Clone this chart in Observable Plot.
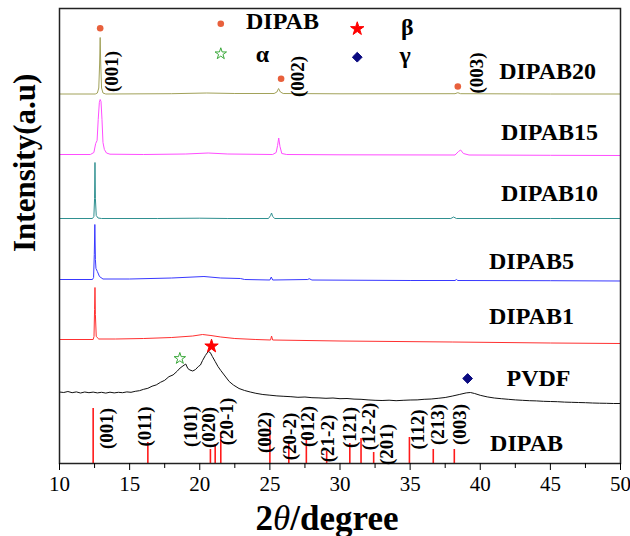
<!DOCTYPE html>
<html><head><meta charset="utf-8">
<script src="https://cdn.jsdelivr.net/npm/d3@7"></script>
<script src="https://cdn.jsdelivr.net/npm/@observablehq/plot@0.6"></script>
<style>html,body{margin:0;padding:0;background:#fff;}</style>
</head><body><div id="chart"></div>
<script>
// ---- Data (2θ in degrees, intensity in arbitrary units) ----
const sampleNames = ["DIPAB20", "DIPAB15", "DIPAB10", "DIPAB5", "DIPAB1", "PVDF"];
const sampleOffsets = [369.5, 309, 245, 184, 124, 0];

const dipab20 = [[10,0],[12.55,0],[12.7,1],[12.8,6],[12.86,30],[12.9,56.5],[12.94,30],[13.0,6],[13.1,1],[13.3,0],[18,0.3],[20.5,1],[22.5,0.5],[25.3,0.5],[25.5,2],[25.62,5.5],[25.75,2],[25.95,0.5],[30,0.2],[38.2,0.3],[38.4,1.3],[38.6,0.3],[45,0],[50,0]];
const dipab15 = [[10,0],[12.2,0],[12.45,2],[12.58,11],[12.68,14],[12.76,35],[12.84,52],[12.9,55],[12.96,53],[13.03,35],[13.1,12],[13.2,5],[13.35,1.5],[13.6,0.3],[16,0],[19,0.5],[20.6,1.5],[22,0.5],[25.2,0],[25.45,2],[25.55,9],[25.63,16.5],[25.72,8],[25.85,1],[26.2,0],[30,-0.3],[38.2,-0.5],[38.45,3],[38.6,4.5],[38.8,1],[39.2,-0.5],[45,-0.8],[50,-1]];
const dipab10 = [[10,0],[12.35,0],[12.45,2],[12.5,20],[12.53,56],[12.56,20],[12.62,3],[12.75,0.5],[13,0],[17,0],[20,0.3],[22,0],[24.9,0],[25.05,3],[25.12,5.5],[25.2,2],[25.35,0],[30,0],[37.9,0],[38.1,1.5],[38.3,0],[45,0],[50,0]];
const dipab5 = [[10,0],[12.35,0],[12.43,2],[12.48,25],[12.52,55],[12.56,20],[12.6,11],[12.7,8],[12.85,3],[13.1,0.5],[15,0.5],[18,1.5],[20.3,3],[21.5,1.5],[22.9,1],[23.2,0],[25,-0.5],[25.1,2.5],[25.2,-0.5],[27.7,0],[27.8,0.8],[28,-0.5],[35,-1],[38.2,-1],[38.3,0],[38.4,-1],[45,-1.2],[50,-1.5]];
const dipab1 = [[10,0],[12.4,0],[12.46,3],[12.5,30],[12.53,52],[12.56,25],[12.62,3],[12.8,0.5],[14,0.5],[16,1],[18,2],[19.5,3.5],[20.2,5],[20.8,4],[21.5,2.5],[22.5,1],[24,0],[25.05,-0.5],[25.12,3.5],[25.2,-0.5],[30,-1.5],[38,-2.5],[45,-3.5],[50,-4]];
const pvdf = [[10,71.5],[10.3,71],[10.6,72],[10.9,70.8],[11.2,71.6],[11.5,70.5],[11.8,71.5],[12.1,70.8],[12.4,71.4],[12.7,70.6],[13.0,71.2],[13.3,70.4],[13.6,71.3],[13.9,70.6],[14.2,71.2],[14.5,70.8],[14.8,71.6],[15.1,71.2],[15.4,72.2],[15.7,72.8],[16.0,74.2],[16.3,75.2],[16.6,77.3],[16.9,78.6],[17.2,81.2],[17.5,83.2],[17.8,86.8],[18.1,88.6],[18.4,92.4],[18.6,95.5],[18.8,97.5],[19.0,99.5],[19.15,95],[19.3,93.5],[19.5,92.5],[19.7,94],[19.9,97],[20.05,98.5],[20.2,103],[20.4,108],[20.6,112],[20.75,111],[20.9,107],[21.1,102],[21.3,97],[21.5,93],[21.8,87.5],[22.1,82],[22.4,78.5],[22.8,75],[23.2,73],[23.6,71.5],[24.0,70.2],[24.5,69],[25.0,68.3],[25.5,67.6],[26.0,67.2],[26.5,66.8],[27.0,66.2],[27.5,66.5],[28.0,65.8],[28.5,65.6],[29.0,65.2],[29.5,65.5],[30.0,64.8],[30.5,65],[31.0,64.4],[31.5,64.2],[32.0,63.6],[32.5,63.2],[33.0,63],[33.5,63.3],[34.0,62.8],[34.5,63.2],[35.0,63.5],[35.5,63.6],[36.0,64.2],[36.5,64.5],[37.0,65.2],[37.5,66],[38.0,67.4],[38.5,69],[39.0,70.6],[39.3,71],[39.6,70],[40.0,68.2],[40.5,66.6],[41.0,65.5],[41.5,64.8],[42.0,64.2],[42.5,63.6],[43.0,63.2],[43.5,62.8],[44.0,62.6],[44.5,62.2],[45.0,62],[45.5,61.8],[46.0,61.4],[46.5,61.2],[47.0,61],[47.5,60.8],[48.0,60.5],[48.5,60.3],[49.0,60.2],[49.5,60],[50,60]];
const sampleSeries = [dipab20, dipab15, dipab10, dipab5, dipab1, pvdf];
const sampleColors = ["#a2a25a", "#ff4dff", "#2f9090", "#3838ff", "#ff3030", "#111111"];

// DIPAB reference pattern (stick positions, relative heights, hkl)
const stickPos = [12.4, 16.3, 20.76, 21.1, 21.5, 25.0, 26.35, 27.6, 29.05, 30.7, 31.5, 32.4, 34.95, 36.65, 38.15];
const stickHeight = [55, 21, 14, 19, 31, 37, 20, 26, 12, 20, 25, 11, 26, 14, 14];
const hklLabels = ["(001)","(011)","(101)","(020)","(20-1)","(002)","(20-2)","(012)","(21-2)","(121)","(12-2)","(201)","(112)","(213)","(003)"];

// DIPAB20 peak markers
const peakPos = [12.9, 25.8, 38.4];
const peakHkl = ["(001)", "(002)", "(003)"];

// Phase markers on PVDF
const phaseNames = ["α", "β", "γ"];
const phasePos = [18.58, 20.84, 39.1];

const xTicks = [10, 15, 20, 25, 30, 35, 40, 45, 50];

// ---- layout (annotation anchors, in data units) ----
const labelAnchor = [[44.8, 392], [44.94, 331], [44.94, 270], [43.65, 202], [43.65, 147], [44.15, 85]];
const dipabLabelAnchor = [43.3, 20];
const hklLabelAnchor = [[13.35,35],[16.1,37],[19.34,37],[20.67,36],[21.96,42],[24.62,31],[26.4,27],[27.68,37],[29.14,25],[30.68,36],[32.03,37],[33.32,19],[35.53,34],[36.95,39],[38.52,39]];
const peakDotY = [435.3, 384.7, 377];
const peakLabelAnchor = [[13.75, 392], [27.0, 387], [39.78, 390.5]];
const phaseMarkY = [105, 117.3, 85];

const traces = [];
sampleSeries.forEach((s, i) => s.forEach(([x, v]) => traces.push({sample: sampleNames[i], x, y: v + sampleOffsets[i]})));
const sticks = stickPos.map((p, i) => ({x: p, h: stickHeight[i]}));
const hkl = hklLabels.map((t, i) => ({t, x: hklLabelAnchor[i][0], y: hklLabelAnchor[i][1]}));
const labels = sampleNames.map((n, i) => ({n, x: labelAnchor[i][0], y: labelAnchor[i][1]}));
labels.push({n: "DIPAB", x: dipabLabelAnchor[0], y: dipabLabelAnchor[1]});
const peakDots = peakPos.map((p, i) => ({x: p, y: peakDotY[i]}));
const peakLabels = peakHkl.map((t, i) => ({t, x: peakLabelAnchor[i][0], y: peakLabelAnchor[i][1]}));
const phaseMarks = phaseNames.map((n, i) => ({n, x: phasePos[i], y: phaseMarkY[i]}));

const serif = '"Liberation Serif", "Times New Roman", serif';
const dotColor = "#e8603c";
const phaseStyle = {
  "α": {symbol: "star", fill: "white", stroke: "#3aa83a", r: 3.6},
  "β": {symbol: "star", fill: "#ff0000", stroke: "#ff0000", r: 4.2},
  "γ": {symbol: "diamond2", fill: "#0a0a80", stroke: "#0a0a80", r: 4.4}
};
const phaseDot = (data, n) => Plot.dot(data.filter(d => d.n === n), {x: "x", y: "y", symbol: phaseStyle[n].symbol, r: phaseStyle[n].r, fill: phaseStyle[n].fill, stroke: phaseStyle[n].stroke, strokeWidth: 1});

// legend entries (data units)
const legendMarks = [
  {n: "DIPAB", x: 21.5, y: 439.7, tx: 23.3, ty: 442.3},
  {n: "β", x: 31.23, y: 434.7, tx: 34.35, ty: 436},
  {n: "α", x: 21.5, y: 409.7, tx: 24.0, ty: 409},
  {n: "γ", x: 31.23, y: 406.3, tx: 34.25, ty: 408}
];

const plot = Plot.plot({
  width: 630, height: 536,
  marginLeft: 59, marginRight: 10, marginTop: 8, marginBottom: 73,
  x: {domain: [10, 50]},
  y: {domain: [0, 455], axis: null},
  style: {fontFamily: serif, background: "white", color: "black", fontSize: "20px"},
  marks: [
    Plot.ruleX(sticks, {x: "x", y1: 0, y2: "h", stroke: "#ff1a1a", strokeWidth: 1.6}),
    Plot.line(traces, {x: "x", y: "y", z: "sample", stroke: d => sampleColors[sampleNames.indexOf(d.sample)], strokeWidth: 1}),
    Plot.frame({stroke: "#222", strokeWidth: 1.5}),
    Plot.axisX({ticks: xTicks, tickSize: 7, tickPadding: 6, fontSize: 21, label: null, tickFormat: d => d}),
    Plot.axisX({ticks: xTicks.slice(0, -1).map(t => t + 2.5), tickSize: 5, tickFormat: () => "", label: null}),
    Plot.text(hkl, {x: "x", y: "y", text: "t", rotate: -90, fontSize: 19, fontWeight: "bold", fill: "black"}),
    Plot.text(peakLabels, {x: "x", y: "y", text: "t", rotate: -90, fontSize: 19, fontWeight: "bold", fill: "black"}),
    Plot.dot(peakDots, {x: "x", y: "y", r: 3.3, fill: dotColor}),
    Plot.text(labels, {x: "x", y: "y", text: "n", fontSize: 24, fontWeight: "bold", fill: "black"}),
    phaseDot(phaseMarks, "α"), phaseDot(phaseMarks, "β"), phaseDot(phaseMarks, "γ"),
    Plot.dot(legendMarks.filter(d => d.n === "DIPAB"), {x: "x", y: "y", r: 3.3, fill: dotColor}),
    phaseDot(legendMarks, "α"), phaseDot(legendMarks, "β"), phaseDot(legendMarks, "γ"),
    Plot.text(legendMarks, {x: "tx", y: "ty", text: "n", textAnchor: "start", fontSize: 24, fontWeight: "bold", fill: "black"}),
    Plot.text(["2θ/degree"], {frameAnchor: "bottom", dx: -13, dy: 66, text: d => d, fontSize: 35, fontWeight: "bold", fill: "black"}),
    Plot.text(["Intensity(a.u)"], {frameAnchor: "left", dx: -34, dy: 16, rotate: -90, text: d => d, fontSize: 31, fontWeight: "bold", fill: "black"})
  ]
});
document.getElementById("chart").appendChild(plot);

// italic θ in the x-axis title
d3.select(plot).selectAll("text").filter(function() { return this.textContent === "2θ/degree"; }).each(function() {
  const t = d3.select(this);
  t.text("");
  t.append("tspan").text("2");
  t.append("tspan").attr("font-style", "italic").attr("font-weight", "normal").text("θ");
  t.append("tspan").text("/degree");
});
</script></body></html>
